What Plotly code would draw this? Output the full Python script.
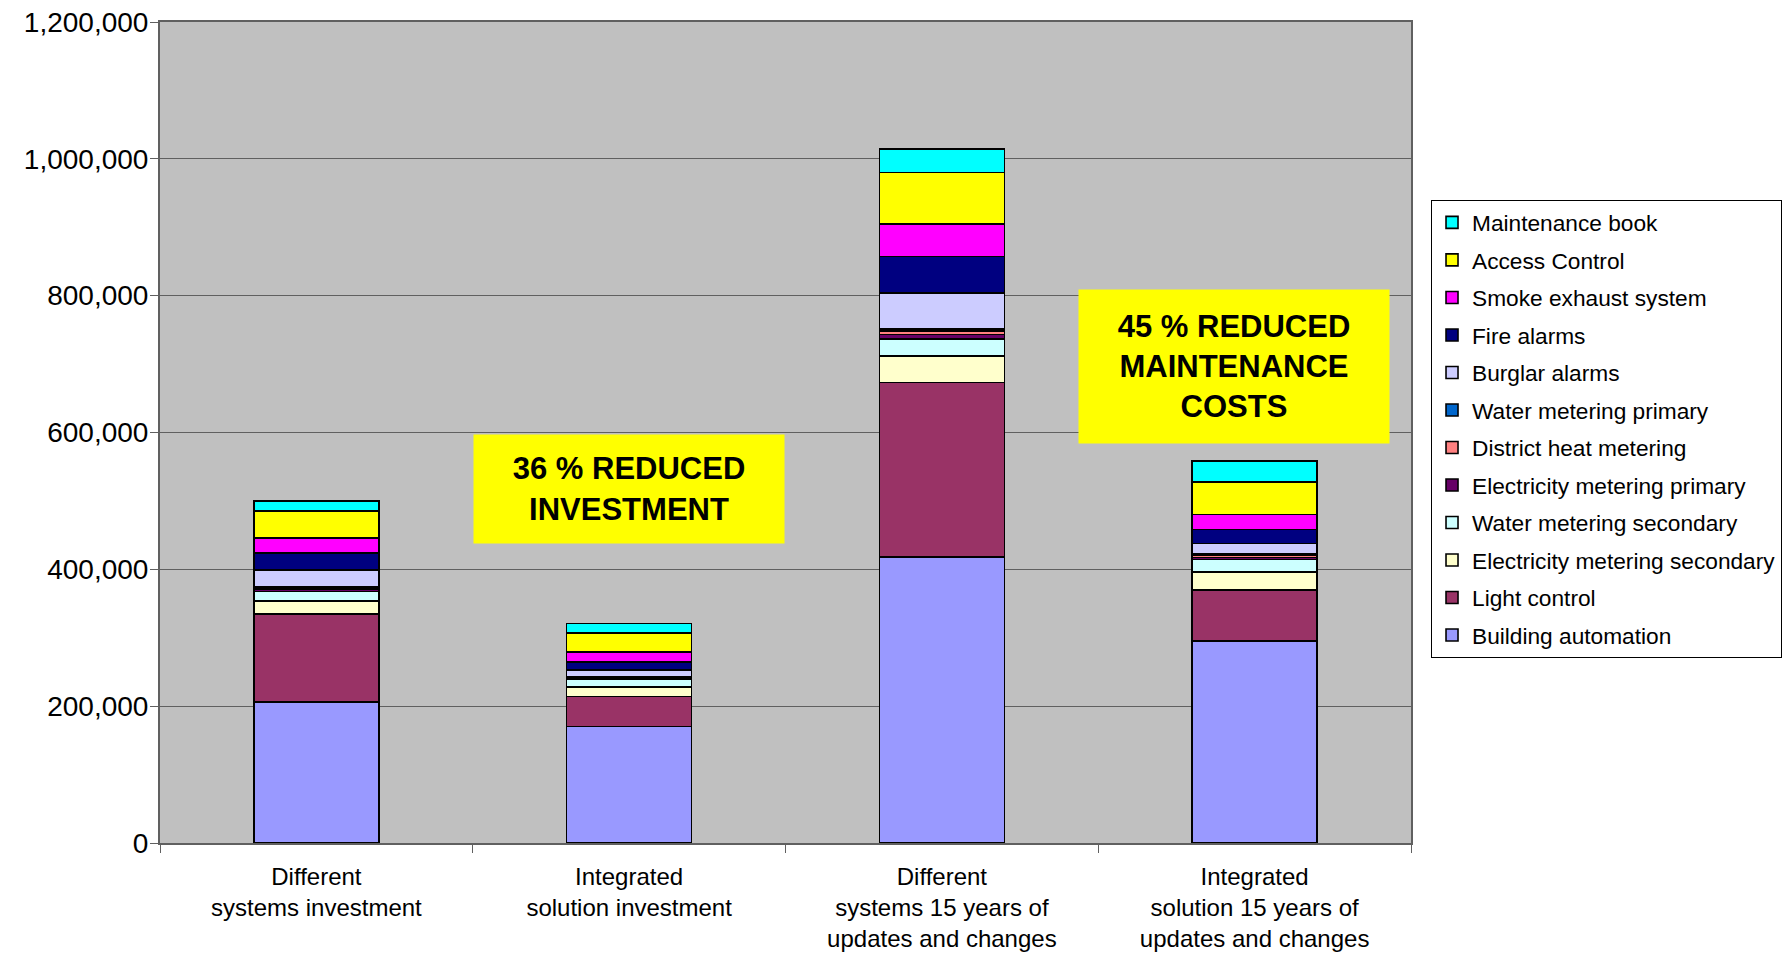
import plotly.graph_objects as go

categories = [
    "Different<br>systems investment",
    "Integrated<br>solution investment",
    "Different<br>systems 15 years of<br>updates and changes",
    "Integrated<br>solution 15 years of<br>updates and changes",
]

building_automation = [206000, 170000, 418000, 295000]
light_control = [129000, 44000, 255000, 75000]
electricity_metering_secondary = [18500, 14000, 39000, 26000]
water_metering_secondary = [14000, 11000, 25000, 18500]
electricity_metering_primary = [3000, 1500, 6000, 3000]
district_heat_metering = [2000, 1500, 5500, 3000]
water_metering_primary = [2000, 1000, 3000, 2000]
burglar_alarms = [24500, 10000, 52000, 15500]
fire_alarms = [25000, 12000, 54000, 20500]
smoke_exhaust_system = [22000, 14000, 47000, 21500]
access_control = [39000, 28000, 75500, 48000]
maintenance_book = [15000, 14000, 34000, 30000]

series = [
    ("Building automation", building_automation, "#9999FF"),
    ("Light control", light_control, "#993366"),
    ("Electricity metering secondary", electricity_metering_secondary, "#FFFFCC"),
    ("Water metering secondary", water_metering_secondary, "#CCFFFF"),
    ("Electricity metering primary", electricity_metering_primary, "#660066"),
    ("District heat metering", district_heat_metering, "#FF8080"),
    ("Water metering primary", water_metering_primary, "#0066CC"),
    ("Burglar alarms", burglar_alarms, "#CCCCFF"),
    ("Fire alarms", fire_alarms, "#000080"),
    ("Smoke exhaust system", smoke_exhaust_system, "#FF00FF"),
    ("Access Control", access_control, "#FFFF00"),
    ("Maintenance book", maintenance_book, "#00FFFF"),
]

fig = go.Figure()
for i, (name, vals, color) in enumerate(series):
    fig.add_trace(go.Bar(
        name=name, x=categories, y=vals, legendgroup=name,
        legendrank=1000 - i,
        marker=dict(color=color, line=dict(color="black", width=1.6)),
    ))

FONT = "Liberation Sans, Arial, sans-serif"

fig.update_layout(
    barmode="stack",
    bargap=0.6,
    width=1787, height=957,
    margin=dict(l=160, r=376, t=22, b=114, autoexpand=False),
    paper_bgcolor="white",
    plot_bgcolor="#C0C0C0",
    font=dict(family=FONT, color="black"),
    showlegend=True,
    legend=dict(
        x=1.016, y=0.783, xanchor="left", yanchor="top",
        bgcolor="white", bordercolor="black", borderwidth=1,
        font=dict(family=FONT, size=22.7, color="black"),
        traceorder="grouped", tracegroupgap=5,
    ),
    xaxis=dict(
        type="category", range=[-0.5, 3.5], automargin=False,
        tickson="boundaries", ticks="outside", ticklen=8, tickcolor="#606060",
        showline=True, linecolor="#606060", linewidth=2, mirror=True,
        tickfont=dict(family=FONT, size=24, color="black"),
        ticklabelstandoff=11,
        showgrid=False,
    ),
    yaxis=dict(
        range=[0, 1200000], dtick=200000, tickformat=",", automargin=False,
        ticks="outside", ticklen=8, tickcolor="#606060",
        showline=True, linecolor="#606060", linewidth=2, mirror=True,
        showgrid=True, gridcolor="#606060", gridwidth=1,
        tickfont=dict(family=FONT, size=28, color="black"),
        ticklabelstandoff=-4,
        zeroline=False,
    ),
    annotations=[
        dict(x=1.0, y=518000, xref="x", yref="y",
             text="<b>36 % REDUCED<br>INVESTMENT</b>", showarrow=False,
             bgcolor="#FFFF00", width=306, height=104, borderpad=2,
             font=dict(family=FONT, size=31, color="black")),
        dict(x=2.934, y=696000, xref="x", yref="y",
             text="<b>45 % REDUCED<br>MAINTENANCE<br>COSTS</b>", showarrow=False,
             bgcolor="#FFFF00", width=306, height=149, borderpad=2,
             font=dict(family=FONT, size=31, color="black")),
    ],
)

fig.write_html("out.html")
